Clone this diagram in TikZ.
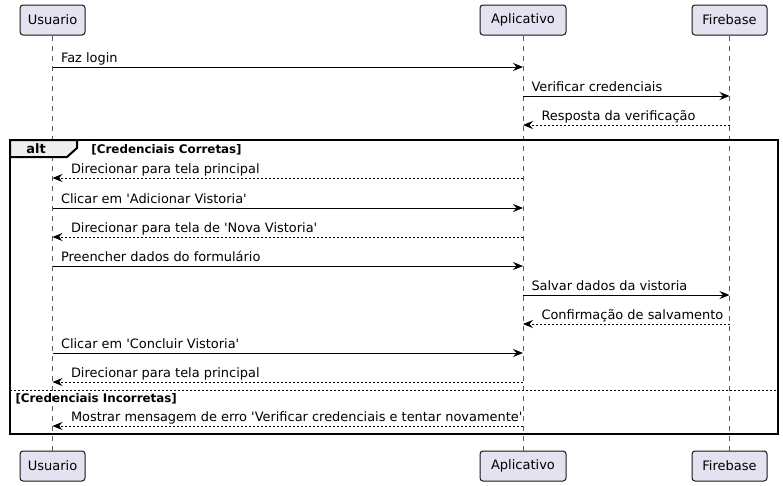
\documentclass[tikz,border=0pt]{standalone}
\usepackage{fontspec}
\setmainfont{DejaVu Sans}
\usetikzlibrary{arrows.meta}
\definecolor{partfill}{HTML}{E2E2F0}
\definecolor{partline}{HTML}{181818}
\definecolor{tabfill}{HTML}{EEEEEE}
\tikzset{every picture/.style={line width=0.75pt}}
\tikzset{
  party/.style={draw=partline, fill=partfill, rounded corners=2.25pt, minimum height=22.5pt, inner sep=0pt, font=\fontsize{9.75}{11}\selectfont},
  life/.style={draw=partline!70, line width=0.4pt, dash pattern=on 3.75pt off 3.75pt},
  sync/.style={line width=0.75pt, -{Stealth[length=7.5pt, width=6pt, inset=2.6pt]}},
  reply/.style={sync, dash pattern=on 1.5pt off 1.5pt},
  msgtxt/.style={anchor=base west, inner sep=0pt, font=\fontsize{9.7}{11}\selectfont},
  tofwd/.style={msgtxt, xshift=6pt, yshift=3.4pt},
  toback/.style={msgtxt, xshift=13.5pt, yshift=3.4pt},
  frame/.style={line width=1.5pt, draw=black},
  guard/.style={anchor=base west, inner sep=0pt, font=\fontsize{8.9}{10}\selectfont\bfseries}
}
\newcommand{\q}{\textquotesingle}
\begin{document}
\begin{tikzpicture}[x=0.75pt,y=0.75pt,yscale=-1,xscale=1]
\useasboundingbox (0,0) rectangle (783,486);

% Participants
\node [party, minimum width=48.75pt] (usrtop) at (52.5,20) {Usuario};
\node [party, minimum width=64.5pt] (apptop) at (523,20) {Aplicativo};
\node [party, minimum width=56.25pt] (fbtop) at (729.5,20) {Firebase};
\node [party, minimum width=48.75pt] (usrbot) at (52.5,466) {Usuario};
\node [party, minimum width=64.5pt] (appbot) at (523,466) {Aplicativo};
\node [party, minimum width=56.25pt] (fbbot) at (729.5,466) {Firebase};

% Lifelines
\draw [life] (usrtop.south) -- (usrbot.north);
\draw [life] (apptop.south) -- (appbot.north);
\draw [life] (fbtop.south) -- (fbbot.north);

% Messages before the alt
\draw [sync] (usrtop |- 0,67) -- (apptop |- 0,67) node [tofwd, at start] (m1) {Faz login};
\draw [sync] (apptop |- 0,96) -- (fbtop |- 0,96) node [tofwd, at start] (m2) {Verificar credenciais};
\draw [reply] (fbtop |- 0,125) -- (apptop |- 0,125) node [toback, at end] (m3) {Resposta da verificação};

% Alt frame
\draw [frame] (10,140) rectangle (778,434);
\draw [frame, fill=tabfill] (10,140) -- (77,140) -- (77,148) -- (67,157) -- (10,157) -- cycle;
\node [anchor=base, inner sep=0pt, font=\fontsize{9.75}{11}\selectfont\bfseries] (alttag) at (36,153) {alt};
\node [guard] (g1) at (91,153) {[Credenciais Corretas]};

% Messages inside the first case
\draw [reply] (apptop |- 0,178) -- (usrtop |- 0,178) node [toback, at end] (m4) {Direcionar para tela principal};
\draw [sync] (usrtop |- 0,208) -- (apptop |- 0,208) node [tofwd, at start] (m5) {Clicar em \q Adicionar Vistoria\q};
\draw [reply] (apptop |- 0,237) -- (usrtop |- 0,237) node [toback, at end] (m6) {Direcionar para tela de \q Nova Vistoria\q};
\draw [sync] (usrtop |- 0,266) -- (apptop |- 0,266) node [tofwd, at start] (m7) {Preencher dados do formulário};
\draw [sync] (apptop |- 0,295) -- (fbtop |- 0,295) node [tofwd, at start] (m8) {Salvar dados da vistoria};
\draw [reply] (fbtop |- 0,324) -- (apptop |- 0,324) node [toback, at end] (m9) {Confirmação de salvamento};
\draw [sync] (usrtop |- 0,353) -- (apptop |- 0,353) node [tofwd, at start] (m10) {Clicar em \q Concluir Vistoria\q};
\draw [reply] (apptop |- 0,382) -- (usrtop |- 0,382) node [toback, at end] (m11) {Direcionar para tela principal};

% Else separator
\draw [line width=0.75pt, dash pattern=on 1.5pt off 1.5pt] (10,390) -- (778,390);
\node [guard] (g2) at (15,402) {[Credenciais Incorretas]};

% Message inside the second case
\draw [reply] (apptop |- 0,426) -- (usrtop |- 0,426) node [toback, at end] (m12) {Mostrar mensagem de erro \q Verificar credenciais e tentar novamente\q};

\end{tikzpicture}
\end{document}
